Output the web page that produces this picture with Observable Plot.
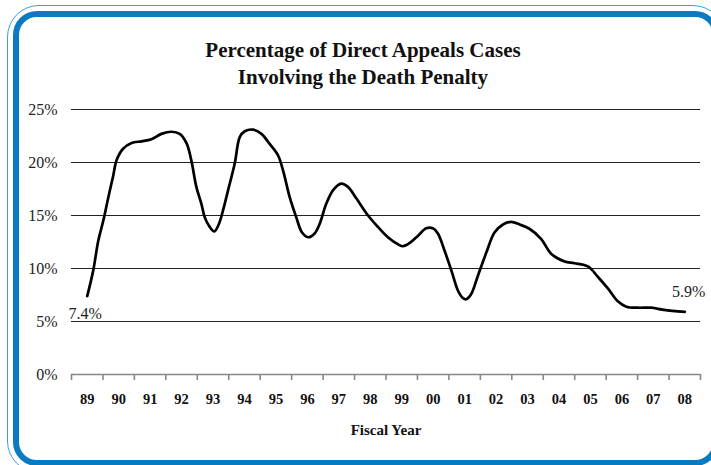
<!DOCTYPE html>
<html>
<head>
<meta charset="utf-8">
<script src="https://cdn.jsdelivr.net/npm/d3@7"></script>
<script src="https://cdn.jsdelivr.net/npm/@observablehq/plot@0.6"></script>
<style>
  html, body { margin: 0; padding: 0; background: #fff; }
  body { width: 711px; height: 465px; position: relative; overflow: hidden; font-family: "Liberation Serif", "Times New Roman", serif; }
  .thin { position: absolute; left: 7px; top: 5px; width: 718px; height: 468px; box-sizing: border-box; border: 1.5px solid #3c9fdd; border-radius: 32px; }
  .thick { position: absolute; left: 13px; top: 11px; width: 706px; height: 455px; box-sizing: border-box; border: 6px solid #0a7bc2; border-radius: 24px; }
  #title { position: absolute; left: 113px; width: 500px; top: 37px; text-align: center; font-weight: bold; font-size: 21px; line-height: 27px; color: #111; }
  #chart { position: absolute; left: 0; top: 0; }
</style>
</head>
<body>
<div class="thin"></div>
<div class="thick"></div>
<div id="chart"></div>
<div id="title">Percentage of Direct Appeals Cases<br>Involving the Death Penalty</div>
<script>
// Tick labels / categories
const fiscalYears = [1989,1990,1991,1992,1993,1994,1995,1996,1997,1998,1999,2000,2001,2002,2003,2004,2005,2006,2007,2008];
const yTicks = [0, 5, 10, 15, 20, 25];

// Series: position along the fiscal-year axis and percentage
const fy = [1989.00,1989.19,1989.35,1989.51,1989.67,1989.83,1989.93,1990.14,1990.41,1990.73,
            1991.04,1991.36,1991.68,1991.94,1992.16,1992.31,1992.47,1992.63,1992.74,1992.90,
            1993.04,1993.18,1993.32,1993.48,1993.69,1993.85,1994.01,1994.27,1994.54,1994.80,
            1995.07,1995.23,1995.44,1995.65,1995.83,1996.04,1996.23,1996.39,1996.60,1996.82,
            1997.08,1997.29,1997.56,1997.93,1998.25,1998.56,1998.90,1999.04,1999.25,1999.52,
            1999.78,1999.99,2000.15,2000.36,2000.58,2000.79,2000.95,2001.05,2001.21,2001.42,
            2001.69,2001.95,2002.22,2002.48,2002.75,2003.06,2003.43,2003.75,2004.18,2004.49,
            2004.92,2005.24,2005.56,2005.87,2006.14,2006.51,2006.93,2007.34,2008.00];
const pct = [7.4,9.8,12.6,14.5,16.7,18.8,20.2,21.3,21.85,22.0,
             22.2,22.7,22.9,22.7,21.8,20.2,17.7,16.1,14.8,13.9,
             13.5,14.15,15.5,17.4,19.9,22.4,22.95,23.1,22.7,21.75,
             20.66,19.2,16.7,14.8,13.4,12.95,13.3,14.2,16.1,17.4,
             18.0,17.7,16.6,15.0,13.9,12.95,12.25,12.1,12.4,13.1,
             13.8,13.8,13.3,11.7,9.8,7.9,7.2,7.1,7.6,9.3,
             11.5,13.4,14.15,14.4,14.15,13.75,12.8,11.4,10.66,10.5,
             10.2,9.2,8.1,6.9,6.4,6.3,6.3,6.1,5.9];

const data = fy.map((x, i) => ({x, y: pct[i]}));
const first = [{...data[0], label: pct[0].toFixed(1) + "%"}];
const last = [{...data[data.length - 1], label: pct[pct.length - 1].toFixed(1) + "%"}];
const boundaries = fiscalYears.map(d => d - 0.5).concat([fiscalYears[fiscalYears.length - 1] + 0.5]);

const serif = "Liberation Serif, Times New Roman, serif";

const chart = Plot.plot({
  width: 711,
  height: 465,
  marginLeft: 71,
  marginRight: 11,
  marginTop: 109,
  marginBottom: 91,
  style: {fontFamily: serif, background: "transparent", overflow: "visible"},
  x: {domain: [fiscalYears[0] - 0.5, fiscalYears[fiscalYears.length - 1] + 0.5]},
  y: {domain: [0, 25]},
  marks: [
    Plot.ruleY(yTicks.filter(d => d > 0), {stroke: "#222", strokeWidth: 1}),
    Plot.ruleY([0], {stroke: "#888", strokeWidth: 1.6}),
    Plot.axisX({ticks: boundaries, tickFormat: () => "", tickSize: 6, stroke: "#888", strokeWidth: 1.6, label: null}),
    Plot.axisX({ticks: fiscalYears, tickSize: 0, tickPadding: 19, tickFormat: d => String(d).slice(2),
                fontSize: 14.5, fontWeight: "bold", fill: "#111", label: null}),
    Plot.axisY({ticks: yTicks, tickSize: 0, tickPadding: 14, tickFormat: d => d + "%", fontSize: 16, fill: "#222", label: null}),
    Plot.line(data, {x: "x", y: "y", curve: "catmull-rom", stroke: "#000", strokeWidth: 2.7, strokeLinejoin: "round"}),
    Plot.text(first, {x: "x", y: "y", text: "label", dx: -2, dy: 18, fontSize: 16, fill: "#222"}),
    Plot.text(last, {x: "x", y: "y", text: "label", dx: 4, dy: -20, fontSize: 16, fill: "#222"}),
    Plot.text(["Fiscal Year"], {frameAnchor: "bottom", dy: 60, fontSize: 15, fontWeight: "bold", fill: "#111"})
  ]
});
document.getElementById("chart").appendChild(chart);
</script>
</body>
</html>
